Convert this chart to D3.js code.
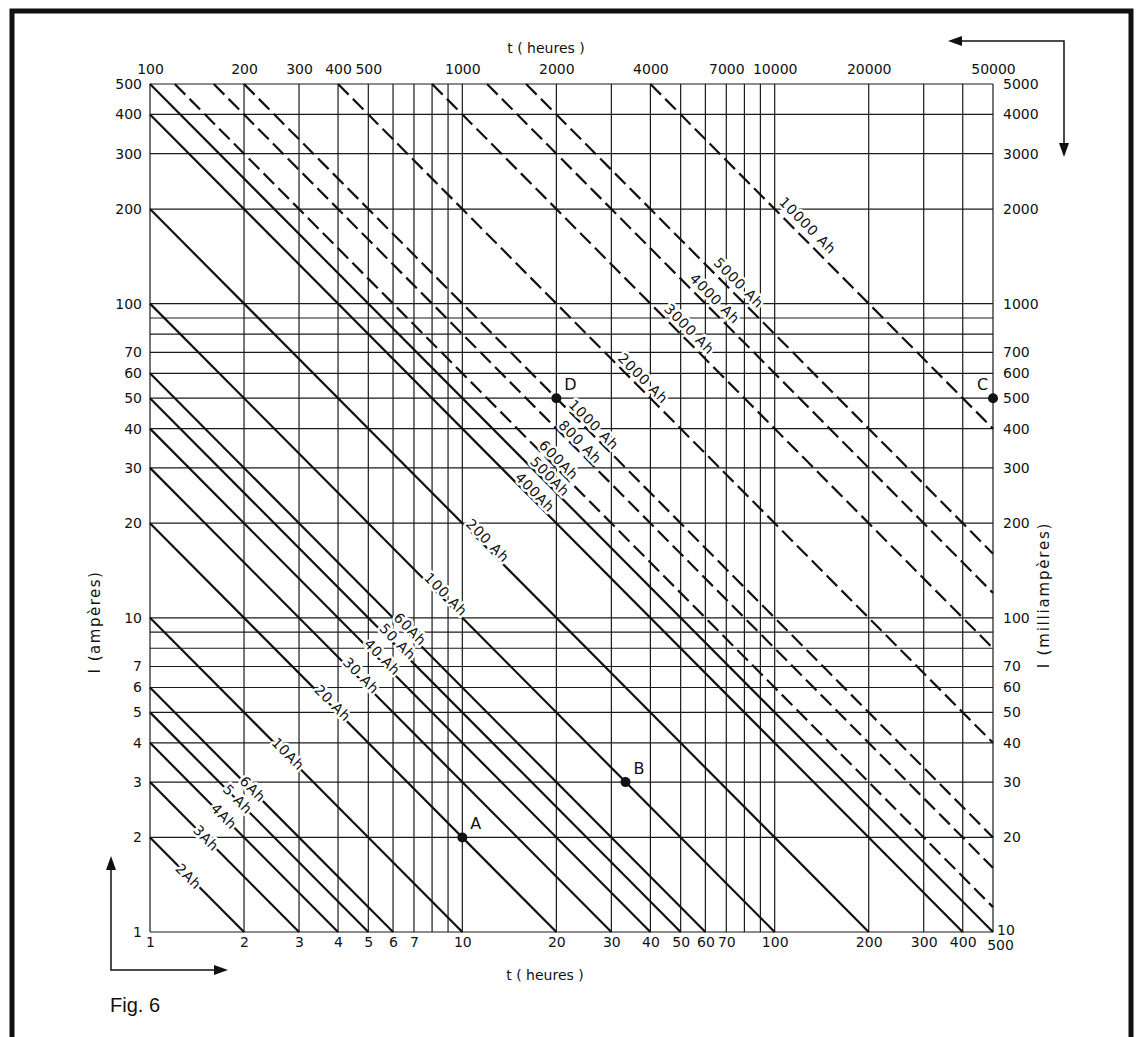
<!DOCTYPE html>
<html><head><meta charset="utf-8">
<script src="https://cdn.jsdelivr.net/npm/d3@7"></script>
<style>
body{margin:0;background:#fff;}
svg text{font-family:"DejaVu Sans",sans-serif;fill:#111;}
</style></head><body>
<svg id="c" width="1138" height="1037"></svg>
<script>
// ---------- data ----------
const gridT = [1,2,3,4,5,6,7,8,9,10,20,30,40,50,60,70,80,90,100,200,300,400,500];
const gridI = [1,2,3,4,5,6,7,8,9,10,20,30,40,50,60,70,80,90,100,200,300,400,500];
const bottomTicks = [1,2,3,4,5,6,7,10,20,30,40,50,60,70,100,200,300,400,500];
const leftTicks = [1,2,3,4,5,6,7,10,20,30,40,50,60,70,100,200,300,400,500];
const topTicks = [100,200,300,400,500,1000,2000,4000,7000,10000,20000,50000];
const rightTicks = [10,20,30,40,50,60,70,100,200,300,400,500,600,700,1000,2000,3000,4000,5000];
const solidAh = [2,3,4,5,6,10,20,30,40,50,60,100,200,400,500];
const dashedAh = [600,800,1000,2000,4000,6000,8000,20000];
const lineLabels = ["2Ah","3Ah","4Ah","5 Ah","6Ah","10Ah","20 Ah","30 Ah","40 Ah","50 Ah","60Ah","100 Ah","200 Ah","400Ah","500Ah",
                    "600Ah","800 Ah","1000 Ah","2000 Ah","3000 Ah","4000 Ah","5000 Ah","10000 Ah"];
const labelT = [1.33,1.51,1.72,1.9,2.12,2.74,3.79,4.66,5.44,6.08,6.66,8.64,11.7,16.5,18.4,
                19.6,22.9,25.3,36.2,50.7,61.0,72.6,120];
const pointNames = ["A","B","C","D"];
const pointT = [10,33.3,500,20];
const pointI = [2,3,50,50];

// ---------- setup ----------
const svg = d3.select("#c");
const L=150, R=993, T=84, B=932;
const x = d3.scaleLog().domain([1,500]).range([L,R]);
const y = d3.scaleLog().domain([1,500]).range([B,T]);
const xTop = d3.scaleLog().domain([100,50000]).range([L,R]);
const yRight = d3.scaleLog().domain([10,5000]).range([B,T]);

// frame
svg.append("rect").attr("x",12).attr("y",11).attr("width",1119).attr("height",1100)
  .attr("fill","none").attr("stroke","#111").attr("stroke-width",5);

// grid
const grid = svg.append("g").attr("stroke","#1a1a1a").attr("stroke-width",1.2);
grid.selectAll("line.v").data(gridT).join("line").attr("class","v")
  .attr("x1",d=>x(d)).attr("x2",d=>x(d)).attr("y1",T).attr("y2",B);
grid.selectAll("line.h").data(gridI).join("line").attr("class","h")
  .attr("y1",d=>y(d)).attr("y2",d=>y(d)).attr("x1",L).attr("x2",R);

// axes
function styleAxis(g){
  g.select(".domain").remove();
  g.attr("font-family",null).attr("font-size",14);
  g.selectAll("text").style("font-size","14px");
}
const gB = svg.append("g").attr("transform",`translate(0,${B})`)
  .call(d3.axisBottom(x).tickValues(bottomTicks).tickSize(0).tickPadding(5).tickFormat(d3.format("d"))).call(styleAxis);
gB.selectAll(".tick").filter(d=>d===500).select("text").attr("dx",7).attr("y",8);
svg.append("g").attr("transform",`translate(${L},0)`)
  .call(d3.axisLeft(y).tickValues(leftTicks).tickSize(0).tickPadding(8).tickFormat(d3.format("d"))).call(styleAxis);
svg.append("g").attr("transform",`translate(0,${T})`)
  .call(d3.axisTop(xTop).tickValues(topTicks).tickSize(0).tickPadding(10).tickFormat(d3.format("d"))).call(styleAxis);
const gR = svg.append("g").attr("transform",`translate(${R},0)`)
  .call(d3.axisRight(yRight).tickValues(rightTicks).tickSize(0).tickPadding(10).tickFormat(d3.format("d"))).call(styleAxis);
gR.selectAll(".tick").filter(d=>d===10).select("text").attr("x",4).attr("dy","0.2em");

// diagonal Ah lines
const allAh = solidAh.concat(dashedAh);
const lg = svg.append("g").attr("fill","none").attr("stroke","#111").attr("stroke-width",2.2);
const seg = P => {
  const t0 = Math.max(1, P/500), t1 = Math.min(500, P);
  return [[x(t0), y(P/t0)], [x(t1), y(P/t1)]];
};
lg.selectAll("path").data(allAh).join("path")
  .attr("d", d => d3.line()(seg(d)))
  .attr("stroke-dasharray", d => dashedAh.includes(d) ? "15,6" : null);

// line labels
const lbl = svg.append("g");
allAh.forEach((P,i)=>{
  const s = seg(P);
  const ang = Math.atan2(s[1][1]-s[0][1], s[1][0]-s[0][0]);
  const t = labelT[i];
  const off = 3*Math.log10(P) - 1;
  const px = x(t) + Math.sin(ang)*off, py = y(P/t) - Math.cos(ang)*off;
  lbl.append("text").text(lineLabels[i])
    .attr("transform",`translate(${px},${py}) rotate(${ang*180/Math.PI})`)
    .attr("text-anchor","middle").attr("dominant-baseline","central")
    .style("font-size","14px").style("letter-spacing","0.8px")
    .attr("stroke","#fff").attr("stroke-width",5).attr("paint-order","stroke").attr("stroke-linejoin","round");
});

// points
const pts = svg.append("g");
pointNames.forEach((n,i)=>{
  const cx = x(pointT[i]), cy = y(pointI[i]);
  pts.append("circle").attr("cx",cx).attr("cy",cy).attr("r",5).attr("fill","#111");
  pts.append("text").text(n).attr("x", n==="C" ? cx-16 : cx+8).attr("y",cy-8).style("font-size","16px");
});

// axis titles
svg.append("text").text("t ( heures )").attr("x",546).attr("y",53).attr("text-anchor","middle").style("font-size","14px");
svg.append("text").text("t ( heures )").attr("x",545).attr("y",980).attr("text-anchor","middle").style("font-size","14px");
svg.append("text").text("I (ampères)").attr("transform","translate(100,622) rotate(-90)").attr("text-anchor","middle").style("font-size","15px").style("letter-spacing","1.5px");
svg.append("text").text("I (milliampères)").attr("transform","translate(1049,595) rotate(-90)").attr("text-anchor","middle").style("font-size","15px").style("letter-spacing","1.8px");

// arrows
const ar = svg.append("g").attr("stroke","#111").attr("stroke-width",1.5).attr("fill","none");
ar.append("polyline").attr("points","958,41 1064,41 1064,145");
ar.append("polyline").attr("points","111,866 111,970 218,970");
const ah = svg.append("g").attr("fill","#111");
ah.append("path").attr("d","M948,41 L962,36 L962,46 Z");
ah.append("path").attr("d","M1064,157 L1059,143 L1069,143 Z");
ah.append("path").attr("d","M111,856 L106,870 L116,870 Z");
ah.append("path").attr("d","M228,970 L214,965 L214,975 Z");

// figure caption
svg.append("text").text("Fig. 6").attr("x",110).attr("y",1012)
  .style("font-family","'Liberation Sans',Arial,sans-serif").style("font-size","20px");
</script>
</body></html>
